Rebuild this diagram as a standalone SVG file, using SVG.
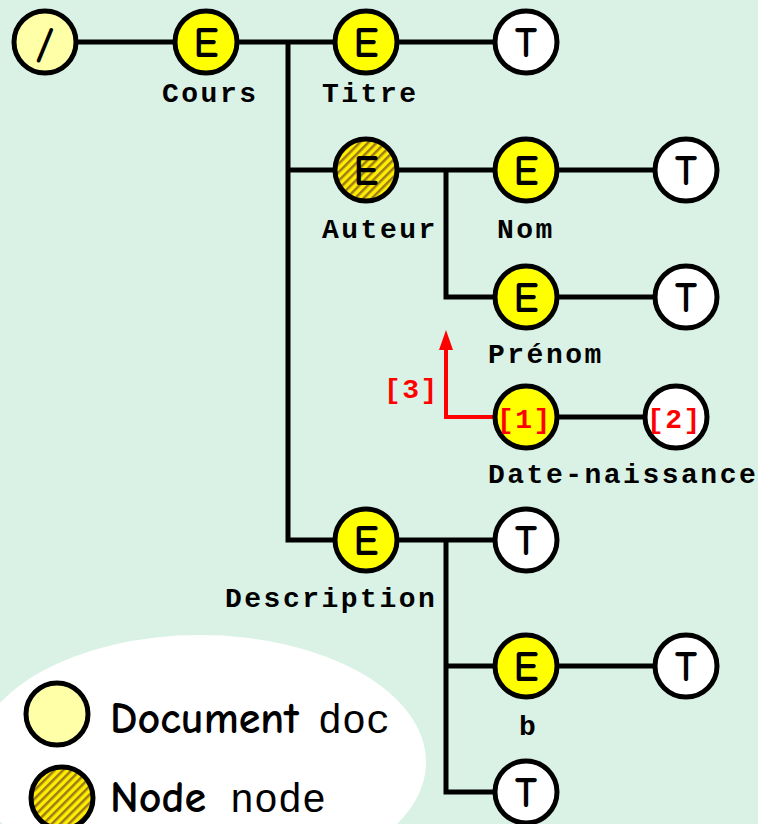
<svg xmlns="http://www.w3.org/2000/svg" width="758" height="824" viewBox="0 0 758 824">
<defs>
<pattern id="hatch" width="6" height="6" patternUnits="userSpaceOnUse" patternTransform="rotate(45)">
<rect width="6" height="6" fill="#FFEE00"/>
<rect width="2.5" height="6" fill="#9C7A1A"/>
</pattern>
</defs>
<style>
.n{stroke:#000;stroke-width:5}
.doc{fill:#FFFFA8}
.el{fill:#FFFF00}
.tx{fill:#FFFFFF}
.hn{fill:url(#hatch)}
.g{font-family:"Comic Sans MS","Comic Neue","DejaVu Sans",sans-serif;font-size:42px;font-weight:bold;fill:#000;text-anchor:middle}
.lb{font-family:"Courier New","Nimbus Mono PS","FreeMono","Liberation Mono",monospace;font-weight:bold;font-size:28px;letter-spacing:2.5px;fill:#000}
.rd{font-family:"Courier New","Nimbus Mono PS","FreeMono","Liberation Mono",monospace;font-weight:bold;font-size:28px;letter-spacing:1.5px;fill:#FF0000}
.c{stroke:#000;stroke-width:5;fill:none}
.lg{font-family:"Comic Sans MS","Comic Neue","DejaVu Sans",sans-serif;font-size:44px;font-weight:bold;fill:#000}
.lm{font-family:"Courier New","Nimbus Mono PS","FreeMono","Liberation Mono",monospace;font-size:40px;fill:#000}
</style>
<rect width="758" height="824" fill="#DAF2E6"/>
<ellipse cx="200" cy="762" rx="226" ry="127" fill="#FFFFFF"/>
<g id="connectors">
<path class="c" d="M78,42 H174 M238,42 H334 M398,42 H494 M288,42 V540 H334 M288,170 H334 M398,170 H494 M446,170 V297 H494 M558,170 H654 M558,297 H654 M558,417 H644 M398,540 H494 M446,540 V792 H494 M446,666 H494 M558,666 H654"/>
<path d="M494,417 H446 V350" stroke="#FF0000" stroke-width="4" fill="none"/>
<polygon points="446,330 439,350 453,350" fill="#FF0000"/>
<text class="rd" x="384" y="398">[3]</text>
</g>
<g id="root"><circle class="n doc" cx="45" cy="42" r="31"/><text class="g" x="45" y="57">/</text></g>
<g id="cours"><circle class="n el" cx="206" cy="42" r="31"/><text class="g" x="206" y="57">E</text><text class="lb" x="162" y="102">Cours</text></g>
<g id="titre"><circle class="n el" cx="366" cy="42" r="31"/><text class="g" x="366" y="57">E</text><text class="lb" x="322" y="102">Titre</text></g>
<g id="titre-t"><circle class="n tx" cx="526" cy="42" r="31"/><text class="g" x="526" y="57">T</text></g>
<g id="auteur"><circle class="n hn" cx="366" cy="170" r="31"/><text class="g" x="366" y="185">E</text><text class="lb" x="322" y="238">Auteur</text></g>
<g id="nom"><circle class="n el" cx="526" cy="170" r="31"/><text class="g" x="526" y="185">E</text><text class="lb" x="497" y="238">Nom</text></g>
<g id="nom-t"><circle class="n tx" cx="686" cy="170" r="31"/><text class="g" x="686" y="185">T</text></g>
<g id="prenom"><circle class="n el" cx="526" cy="297" r="31"/><text class="g" x="526" y="312">E</text><text class="lb" x="488" y="363">Prénom</text></g>
<g id="prenom-t"><circle class="n tx" cx="686" cy="297" r="31"/><text class="g" x="686" y="312">T</text></g>
<g id="date"><circle class="n el" cx="526" cy="417" r="31"/><text class="rd" x="497" y="428">[1]</text><text class="lb" x="488" y="483">Date-naissance</text></g>
<g id="date-t"><circle class="n tx" cx="676" cy="417" r="31"/><text class="rd" x="647" y="428">[2]</text></g>
<g id="description"><circle class="n el" cx="366" cy="540" r="31"/><text class="g" x="366" y="555">E</text><text class="lb" x="225" y="607">Description</text></g>
<g id="description-t"><circle class="n tx" cx="526" cy="540" r="31"/><text class="g" x="526" y="555">T</text></g>
<g id="b"><circle class="n el" cx="526" cy="666" r="31"/><text class="g" x="526" y="681">E</text><text class="lb" x="519" y="735">b</text></g>
<g id="b-t"><circle class="n tx" cx="686" cy="666" r="31"/><text class="g" x="686" y="681">T</text></g>
<g id="desc-t2"><circle class="n tx" cx="526" cy="792" r="31"/><text class="g" x="526" y="807">T</text></g>
<g id="legend">
<circle class="n doc" cx="57" cy="714" r="31"/>
<text class="lg" x="110" y="733">Document</text><text class="lm" x="318" y="733">doc</text>
<circle class="n hn" cx="62" cy="798" r="31"/>
<text class="lg" x="110" y="812">Node</text><text class="lm" x="230" y="812">node</text>
</g>
</svg>
